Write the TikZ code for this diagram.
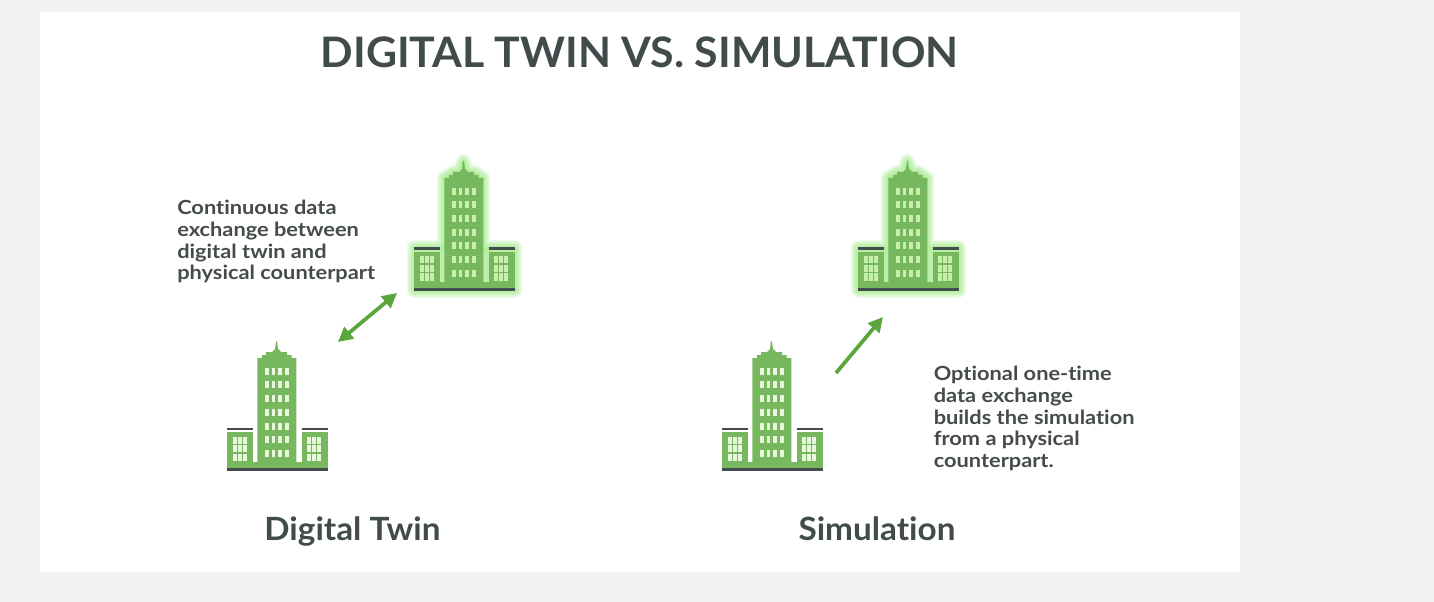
\documentclass[tikz,border=0pt]{standalone}
\usepackage{fontspec}
\setmainfont{Lato}[Ligatures=NoCommon]
\newfontfamily\titlefont[FakeStretch=1.02,Ligatures=NoCommon]{Lato}
\newfontfamily\namefont[FakeStretch=1.04,Ligatures=NoCommon]{Lato}
\newfontfamily\notefont[FakeStretch=1.12,Ligatures=NoCommon]{Lato}
\usetikzlibrary{arrows.meta,positioning}
\definecolor{bggray}{HTML}{F2F2F2}
\definecolor{bldgreen}{HTML}{77B85F}
\definecolor{winlight}{HTML}{E8F6DE}
\definecolor{winglow}{HTML}{C8F0AC}
\definecolor{glowgreen}{HTML}{B2EE9E}
\definecolor{roofdark}{HTML}{434D4D}
\definecolor{arrowgreen}{HTML}{5AA63C}
\definecolor{titlegray}{HTML}{414B4B}
\definecolor{notegray}{HTML}{454B4B}
\newcommand{\towerpath}{(30.3,-7) -- (30.3,-111) -- (35,-111) -- (35,-114) -- (39,-114) -- (39,-117) -- (45,-117) -- (48,-120) -- (49,-128) -- (50,-128) -- (51,-120) -- (54,-117) -- (60,-117) -- (60,-114) -- (64.5,-114) -- (64.5,-111) -- (69.3,-111) -- (69.3,-7) -- cycle}
\tikzset{
  titletext/.style={font=\titlefont\fontsize{31.5pt}{36pt}\selectfont\bfseries,text=titlegray,inner sep=0pt,anchor=base},
  nametext/.style={font=\namefont\fontsize{24pt}{27pt}\selectfont\bfseries,text=titlegray,inner sep=0pt,anchor=base},
  notetext/.style={font=\notefont\fontsize{14.6pt}{16.3pt}\selectfont\bfseries,text=notegray,align=left,anchor=north west,inner sep=0pt},
  dataarrow/.style={draw=arrowgreen,line width=2.8pt},
  tip/.style={-{Triangle[length=11pt,width=11pt]}},
  twotip/.style={{Triangle[length=11pt,width=11pt]}-{Triangle[length=11pt,width=11pt]}},
  building/.pic={
    \fill[bldgreen] \towerpath;
    \fill[bldgreen] (0,-37) rectangle (26,-7);
    \fill[bldgreen] (75,-37) rectangle (101,-7);
    \fill[bldgreen] (0,-7) rectangle (101,-1);
    \fill[roofdark] (0,-41.5) rectangle (26,-38.8);
    \fill[roofdark] (75,-41.5) rectangle (101,-38.8);
    \fill[roofdark] (0,-1) rectangle (101,1.5);
    \foreach \row in {0,...,6}
      \foreach \col in {0,...,3}
        \fill[winlight] ({38+\col*6.7},{-101.3+\row*13.7}) rectangle ++(3.7,7);
    \foreach \wing in {5.7,79.7}
      \foreach \row in {0,1,2}
        \foreach \col in {0,1,2}
          \fill[winlight] ({\wing+\col*5},{-32.5+\row*8.5}) rectangle ++(3.8,7);
  },
  glowbuilding/.pic={
    \foreach \w/\op in {11/0.2,9/0.25,7/0.3,5/0.35,3/0.45}
      \draw[glowgreen,opacity=\op,fill=glowgreen,line width=\w pt,line join=round]
        (0,-41.5) -- (30,-41.5) -- (30,-111) -- (39,-117) -- (45,-117) -- (49.5,-128) -- (54,-117) -- (60,-117) -- (69,-111) -- (69,-41.5) -- (101,-41.5) -- (101,1.5) -- (0,1.5) -- cycle;
    \colorlet{winlight}{winglow}
    \pic {building};
  }
}
\begin{document}
\begin{tikzpicture}[x=0.75pt,y=-0.75pt]
  \useasboundingbox (0,0) rectangle (1434,602);
  \fill[bggray] (0,0) rectangle (1434,602);
  \fill[white] (40,12) rectangle (1240,572);

  \node[titletext] (title) at (639.5,68) {DIGITAL TWIN VS. SIMULATION};
  \node[nametext] (twinname) at (352.5,540) {Digital Twin};
  \node[nametext] (simname) at (877,540) {Simulation};

  \pic at (227,469) {building};
  \pic at (414,289) {glowbuilding};
  \pic at (722,469) {building};
  \pic at (858,289) {glowbuilding};

  \node[notetext] (twinnote) at (177,200) {Continuous data\\exchange between\\digital twin and\\physical counterpart};
  \node[notetext] (simnote) at (933.5,366) {Optional one-time\\data exchange\\builds the simulation\\from a physical\\counterpart.};

  \coordinate (twinlow) at (338,342);
  \coordinate (twinhigh) at (397,293);
  \coordinate (simlow) at (836,373);
  \coordinate (simhigh) at (883,317);
  \draw[dataarrow,twotip] (twinlow) -- (twinhigh);
  \draw[dataarrow,tip] (simlow) -- (simhigh);
\end{tikzpicture}
\end{document}
